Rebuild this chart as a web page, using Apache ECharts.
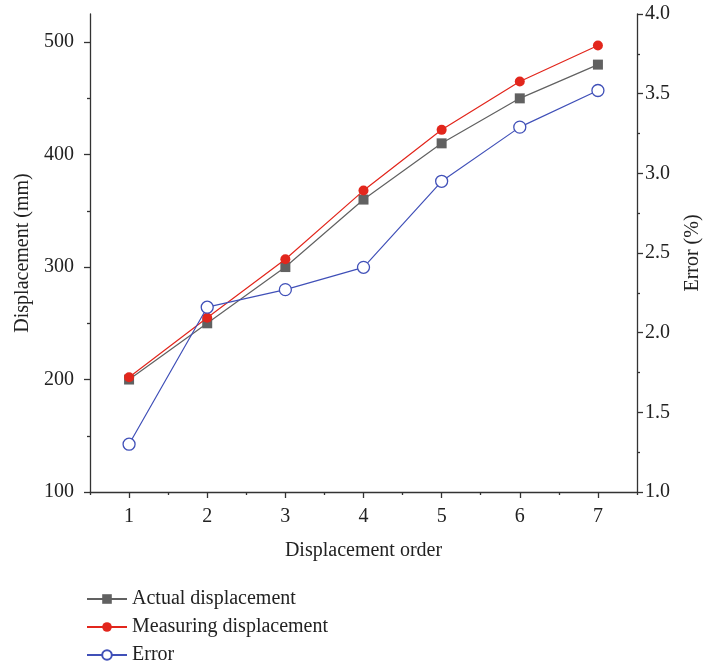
<!DOCTYPE html>
<html>
<head>
<meta charset="utf-8">
<script src="https://cdn.jsdelivr.net/npm/echarts@6/dist/echarts.min.js"></script>
<style>
  html, body { margin: 0; padding: 0; background: #fff; }
  #chart { width: 703px; height: 667px; }
</style>
</head>
<body>
<div id="chart"></div>
<script>
// displacement order (x categories)
var orders = ['1', '2', '3', '4', '5', '6', '7'];
// left axis values (mm)
var actualDisp = [200, 250, 300, 360, 410, 450, 480];
var measuringDisp = [202, 255, 307, 368, 422, 465, 497];
// right axis values (%)
var errorPct = [1.30, 2.16, 2.27, 2.41, 2.95, 3.29, 3.52];
// tick labels
var leftMajor = [100, 200, 300, 400, 500];
var leftMinor = [150, 250, 350, 450];

var font = 'Liberation Serif';
var axisColor = '#333';
var fs = 20;

let chart = echarts.init(document.getElementById('chart'));

let option = {
    backgroundColor: '#fff',
    textStyle: { fontFamily: font },
    grid: { left: 90, right: 66, top: 14, bottom: 175, containLabel: false, outerBoundsMode: 'none' },
    legend: {
        orient: 'vertical',
        left: 86,
        top: 589,
        height: 78,
        padding: 0,
        itemGap: 8,
        itemWidth: 40,
        itemHeight: 12,
        textStyle: { fontFamily: font, fontSize: fs, color: '#222' },
        data: ['Actual displacement', 'Measuring displacement', 'Error']
    },
    xAxis: [{
        type: 'category',
        data: orders,
        boundaryGap: true,
        name: 'Displacement order',
        nameLocation: 'middle',
        nameGap: 49,
        nameTextStyle: { fontFamily: font, fontSize: fs, color: '#222' },
        axisLine: { show: true, lineStyle: { color: axisColor, width: 1.3 } },
        axisTick: { show: true, alignWithLabel: true, length: 6, lineStyle: { color: axisColor, width: 1.3 } },
        axisLabel: { show: true, margin: 15, fontFamily: font, fontSize: fs, color: '#222' },
        splitLine: { show: false }
    }, {
        // minor ticks at half steps
        type: 'category',
        data: orders,
        boundaryGap: true,
        position: 'bottom',
        axisLine: { show: false },
        axisTick: { show: true, length: 3, lineStyle: { color: axisColor, width: 1.3 } },
        axisLabel: { show: false },
        splitLine: { show: false }
    }],
    yAxis: [{
        type: 'value',
        position: 'left',
        min: 100,
        max: 525,
        name: 'Displacement (mm)',
        nameLocation: 'middle',
        nameRotate: 90,
        nameGap: 56,
        nameTextStyle: { fontFamily: font, fontSize: fs, color: '#222' },
        axisLine: { show: true, lineStyle: { color: axisColor, width: 1.3 } },
        axisTick: { show: true, customValues: leftMajor, length: 6, lineStyle: { color: axisColor, width: 1.3 } },
        axisLabel: { customValues: leftMajor, margin: 16, fontFamily: font, fontSize: fs, color: '#222' },
        splitLine: { show: false }
    }, {
        type: 'value',
        position: 'right',
        min: 1,
        max: 4,
        interval: 0.5,
        name: 'Error (%)',
        nameLocation: 'middle',
        nameRotate: 90,
        nameGap: 46,
        nameTextStyle: { fontFamily: font, fontSize: fs, color: '#222' },
        axisLine: { show: true, lineStyle: { color: axisColor, width: 1.3 } },
        axisTick: { show: true, length: 6, lineStyle: { color: axisColor, width: 1.3 } },
        minorTick: { show: true, splitNumber: 2, length: 3, lineStyle: { color: axisColor, width: 1.3 } },
        axisLabel: {
            margin: 8, fontFamily: font, fontSize: fs, color: '#222',
            formatter: function (v) { return v.toFixed(1); }
        },
        splitLine: { show: false }
    }, {
        // minor ticks on the left axis
        type: 'value',
        position: 'left',
        min: 100,
        max: 525,
        axisLine: { show: false },
        axisTick: { show: true, customValues: leftMinor, length: 3, lineStyle: { color: axisColor, width: 1.3 } },
        axisLabel: { show: false },
        splitLine: { show: false }
    }],
    series: [{
        name: 'Actual displacement',
        type: 'line',
        yAxisIndex: 0,
        data: actualDisp,
        symbol: 'rect',
        symbolSize: 10,
        lineStyle: { color: '#616161', width: 1.2 },
        itemStyle: { color: '#616161' },
        z: 2
    }, {
        name: 'Measuring displacement',
        type: 'line',
        yAxisIndex: 0,
        data: measuringDisp,
        symbol: 'circle',
        symbolSize: 10,
        lineStyle: { color: '#e2261c', width: 1.2 },
        itemStyle: { color: '#e2261c' },
        z: 3
    }, {
        name: 'Error',
        type: 'line',
        yAxisIndex: 1,
        data: errorPct,
        symbol: 'circle',
        symbolSize: 12,
        lineStyle: { color: '#4050b8', width: 1.2 },
        itemStyle: { color: '#fff', borderColor: '#4050b8', borderWidth: 1.3 },
        z: 4
    }]
};

chart.setOption(option);
</script>
</body>
</html>
